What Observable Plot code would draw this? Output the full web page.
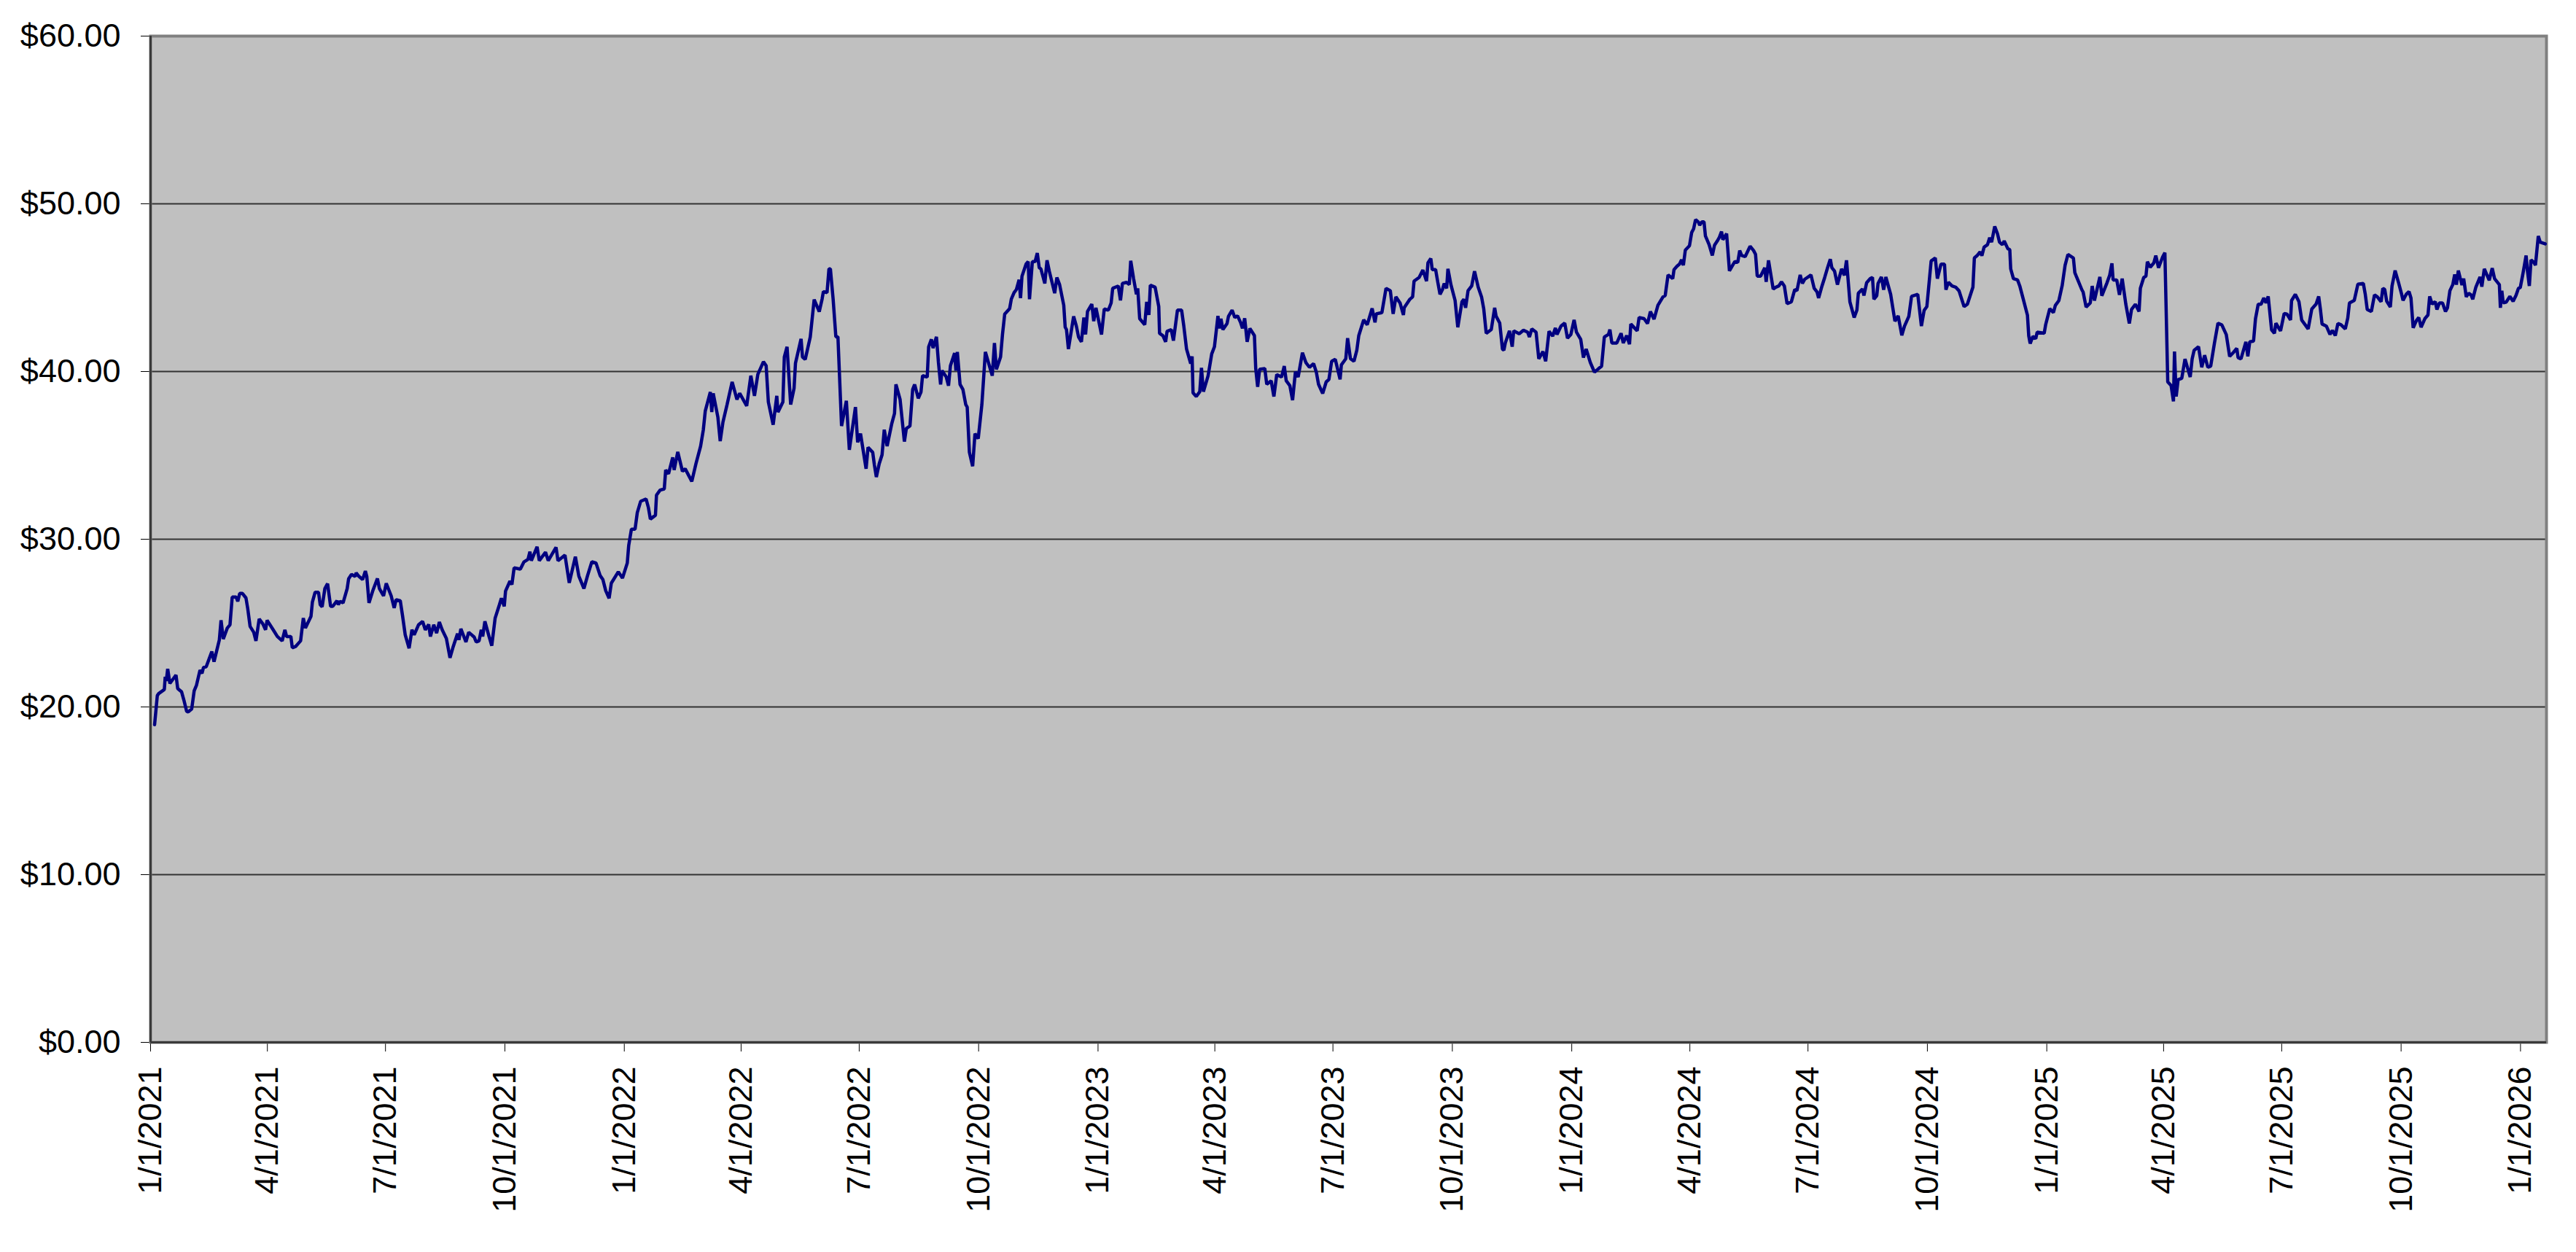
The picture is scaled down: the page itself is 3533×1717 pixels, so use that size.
<!DOCTYPE html>
<html><head><meta charset="utf-8">
<script src="https://cdn.jsdelivr.net/npm/d3@7"></script>
<script src="https://cdn.jsdelivr.net/npm/@observablehq/plot@0.6"></script>
<style>
html,body{margin:0;padding:0;background:#fff;}
#chart svg{display:block;}
</style></head><body><div id="chart"></div>
<script>
const startDate = "2021-01-01";
const endDate = "2026-01-21";
const yTicks = [0, 10, 20, 30, 40, 50, 60];
const xTickLabels = ["1/1/2021","4/1/2021","7/1/2021","10/1/2021","1/1/2022","4/1/2022","7/1/2022","10/1/2022","1/1/2023","4/1/2023","7/1/2023","10/1/2023","1/1/2024","4/1/2024","7/1/2024","10/1/2024","1/1/2025","4/1/2025","7/1/2025","10/1/2025","1/1/2026"];

// days elapsed since startDate
const dayOffsets = [
3.1,5.2,6.3,10.6,11.3,12.1,13.2,14.9,19.6,20.9,
23.9,25.7,27.8,29.0,31.7,33.6,35.4,38.1,39.6,40.8,
42.9,47.2,48.9,53.0,54.3,56.0,59.1,61.2,62.9,65.9,
67.2,68.7,70.8,73.5,74.8,76.7,79.5,81.2,83.7,86.5,
88.6,89.8,94.5,97.7,101.4,103.5,104.8,108.1,109.2,111.7,
115.6,117.7,119.3,123.6,124.7,126.8,129.4,130.7,132.2,134.3,
136.4,138.7,140.4,143.6,144.7,146.1,148.3,151.5,152.6,154.8,
157.6,158.4,160.6,163.4,165.5,166.6,168.3,171.1,174.8,176.3,
179.5,181.6,185.4,187.7,189.2,192.4,194.1,196.2,199.2,201.4,
203.1,206.4,209.6,211.7,214.3,215.6,218.2,220.4,222.5,224.7,
227.9,230.7,233.2,236.5,237.6,239.1,243.0,245.1,249.4,250.9,
253.1,254.8,255.9,257.6,260.8,262.9,265.5,268.8,270.3,272.5,
273.5,276.9,278.4,280.1,284.9,287.7,290.8,292.3,293.4,297.8,
299.5,304.3,306.4,312.4,313.9,319.3,322.6,327.3,330.0,333.9,
336.7,340.0,343.2,346.4,348.5,350.7,353.3,355.0,360.4,363.6,
367.3,368.4,370.5,373.3,375.0,377.6,381.8,383.6,385.1,389.0,
389.8,392.6,395.8,396.9,399.1,402.3,403.4,406.2,409.8,411.9,
417.0,420.2,423.8,425.9,427.4,431.3,432.4,433.5,437.1,438.9,
441.0,444.2,448.1,451.8,453.9,459.3,462.5,465.3,467.9,472.2,
474.3,476.0,479.7,482.5,483.4,487.2,488.3,490.4,493.2,495.8,
496.9,501.2,502.3,504.4,508.3,511.3,515.2,517.4,518.4,521.2,
522.7,523.8,525.9,528.0,529.6,530.7,532.4,536.1,538.4,543.1,
544.8,547.0,551.3,552.8,556.4,557.7,559.2,561.4,563.6,565.3,
567.5,571.1,573.2,574.3,577.5,580.8,582.3,585.1,587.2,588.7,
591.5,593.6,594.8,598.4,599.5,601.6,602.9,605.5,607.0,608.7,
609.8,613.1,614.8,616.3,619.5,620.5,621.6,623.7,625.9,628.1,
629.2,630.9,633.4,635.2,637.7,640.5,643.2,648.5,650.2,651.7,
654.9,656.4,658.1,661.9,663.2,665.3,
667.1,669.2,670.3,671.4,674.6,676.2,677.2,679.4,681.5,683.2,
684.7,686.0,689.0,690.7,692.5,696.6,698.3,700.4,703.6,704.7,
705.7,707.2,711.2,713.3,715.0,717.2,719.1,720.4,721.9,725.2,
726.7,728.4,732.7,734.8,738.0,740.1,741.3,745.6,747.3,748.8,
752.0,754.1,755.2,757.4,759.6,760.6,762.1,766.0,767.5,769.2,
770.3,774.0,776.8,777.4,780.0,782.1,783.2,786.4,788.1,791.2,
794.4,796.1,798.2,801.4,802.5,803.2,805.7,808.4,809.7,811.2,
814.8,817.6,819.7,822.4,823.4,824.7,826.2,829.4,830.5,833.3,
835.4,837.5,839.8,841.3,843.0,844.9,847.0,850.5,851.5,853.0,
854.5,858.5,860.0,863.4,865.5,867.7,871.4,873.5,875.0,877.8,
879.9,882.1,884.2,887.5,890.1,892.9,896.1,898.2,899.9,903.1,
905.8,907.9,910.0,912.8,916.5,917.5,920.9,922.3,924.5,927.2,
929.4,930.9,934.7,937.4,941.2,943.4,944.4,948.7,951.9,955.2,
957.4,959.5,962.7,965.3,965.9,970.3,972.4,973.5,977.4,980.3,
983.1,984.2,986.4,987.5,990.1,991.8,993.5,995.4,996.7,
998.6,999.6,1001.9,1005.1,1007.2,1010.4,1011.9,1013.2,1015.1,1017.9,
1020.1,1022.9,1025.5,1027.2,1029.1,1033.0,1035.6,1036.7,1039.5,1041.6,
1042.7,1043.8,1047.0,1049.1,1050.3,1054.5,1057.7,1061.0,1062.4,1064.2,
1067.5,1069.6,1072.8,1074.9,1077.5,1080.3,1082.4,1083.6,1086.8,1089.6,
1091.7,1094.3,1096.8,1098.6,1101.9,1104.0,1106.1,1109.3,1112.5,1115.8,
1118.0,1120.1,1123.3,1124.4,1125.9,1129.7,1133.0,1134.7,1137.3,1139.5,
1140.5,1145.4,1146.9,1150.7,1153.4,1155.6,1158.4,1161.4,1165.3,1167.0,
1169.2,1172.8,1173.8,1176.0,1178.1,1179.6,1181.0,1182.5,1185.7,1187.4,
1188.9,1190.4,1192.5,1193.6,1195.3,1196.9,1198.0,1200.8,1203.3,1205.0,
1207.2,1208.7,1210.4,1211.4,1214.3,1216.5,1219.0,1220.7,1222.9,1224.4,
1225.9,1228.6,1232.4,1235.1,1236.6,1237.9,1240.5,1243.7,1244.8,1246.6,
1250.2,1252.3,1254.5,1256.6,1258.8,1260.9,1264.2,1266.8,1268.5,1271.0,
1272.7,1274.5,1278.1,1279.3,1281.8,1284.0,1285.2,1287.8,1289.9,1292.1,
1294.2,1295.4,1297.5,1299.7,1302.9,1305.0,1306.7,1309.3,1312.6,1314.7,
1315.8,1319.0,1320.1,1322.2,1325.0,
1326.7,1327.8,1330.0,1331.0,1333.6,1335.3,1337.0,1340.7,1344.0,1346.5,
1349.3,1351.4,1354.7,1356.8,1361.6,1364.4,1366.5,1368.6,1371.9,1375.1,
1376.7,1379.5,1382.2,1383.3,1385.2,1388.0,1390.8,1393.4,1397.3,1399.8,
1404.1,1405.2,1407.3,1409.6,1411.0,1412.7,1415.3,1417.0,1418.5,1420.9,
1423.0,1424.6,1426.8,1428.2,1431.0,1432.5,1433.2,1435.3,1438.5,1440.2,
1442.9,1446.1,1447.1,1448.2,1450.3,1452.5,1453.6,1459.0,1460.1,1463.3,
1466.1,1467.6,1470.3,1472.9,1475.1,1477.3,1481.5,1482.6,1484.1,1488.0,
1489.0,1491.3,1494.5,1496.0,1497.7,1501.9,1503.4,1507.4,1509.5,1511.2,
1512.1,1514.9,1517.0,1519.1,1521.9,1524.6,1526.3,1529.3,1532.1,1533.1,
1535.7,1537.4,1538.5,1540.7,1543.5,1545.0,1547.1,1550.3,1552.0,1554.2,
1556.8,1558.6,1559.4,1560.7,1562.2,1565.0,1567.5,1571.5,1573.0,1574.5,
1577.9,1580.4,1582.6,1585.1,1587.3,1590.2,1592.9,1595.9,1599.3,1601.9,
1604.6,1607.4,1608.4,1610.6,1614.4,1615.9,1617.4,1620.3,1621.8,1623.9,
1626.1,1628.2,1629.9,1631.6,1634.2,1636.4,1637.5,1641.1,1643.9,1646.0,
1648.8,1649.6,1652.5,1655.3,1657.4,
1662.4,1665.2,1668.5,1670.5,1671.8,1673.1,1676.4,1679.2,1681.1,1683.3,
1685.3,1687.7,1691.0,1692.9,1694.2,1697.9,1700.7,1704.9,1706.4,1707.9,
1711.1,1713.5,1715.7,1718.6,1719.9,1721.4,1722.9,1725.7,1727.0,1729.4,
1732.2,1734.2,1735.5,1737.9,1740.1,1741.6,1743.3,1745.7,1747.6,1749.4,
1752.3,1754.7,1756.0,1757.9,1760.3,1761.6,1763.5,1765.9,1768.2,1769.7,
1771.6,1773.8,1775.3,1776.6,1778.1,1779.4,1780.9,1782.2,1784.2,1786.0,
1787.9,1789.2,1791.6,1794.8,1796.2,1798.1,1801.9,1804.2,1806.0,1809.7,
1810.5,1811.6,1812.7,1815.0,1817.8,1820.3,1822.5,1824.4,1825.8,1827.7,
1830.3,1831.4,1832.8,1834.1,1836.5,1837.5,1839.7,1841.2,1845
];

const prices = [
18.94,20.68,20.80,21.04,21.8,21.55,22.27,21.4,21.9,21.1,
20.9,20.4,19.74,19.7,19.88,20.96,21.3,22.2,22.0,22.35,
22.4,23.3,22.7,24.0,25.17,24.05,24.7,24.9,26.55,26.55,
26.3,26.77,26.77,26.5,25.9,24.8,24.45,23.94,25.25,24.95,
24.6,25.17,24.6,24.2,23.94,24.6,24.2,24.2,23.53,23.6,
23.94,25.3,24.7,25.4,26.26,26.84,26.84,26.1,25.97,27.06,
27.35,26.0,26.0,26.33,26.1,26.3,26.2,27.06,27.64,27.9,
27.78,27.99,27.78,27.6,28.1,27.78,26.2,26.9,27.66,27.06,
26.62,27.37,26.62,25.9,26.4,26.33,25.46,24.3,23.5,24.6,
24.3,24.89,25.1,24.6,24.92,24.2,24.9,24.4,25.06,24.6,
24.09,22.93,23.6,24.37,24.0,24.66,23.87,24.45,24.16,23.87,
23.94,24.6,24.2,25.1,24.2,23.65,25.3,26.1,26.48,26.0,
26.91,27.5,27.3,28.29,28.22,28.65,28.8,29.26,28.72,29.55,
28.72,29.23,28.72,29.52,28.72,29.05,27.4,28.96,27.8,27.06,
27.83,28.66,28.58,27.83,27.6,26.93,26.48,27.38,28.06,27.68,
28.58,29.63,30.6,30.6,31.58,32.26,32.4,31.88,31.2,31.43,
32.63,32.93,33.0,34.13,33.9,34.88,34.13,35.21,34.05,34.2,
33.45,34.5,35.55,36.53,37.65,38.78,37.58,38.7,37.28,35.85,
36.98,38.03,39.38,38.33,38.7,37.95,39.75,38.55,39.83,40.58,
40.35,38.18,36.83,38.55,37.58,38.18,40.87,41.47,38.03,39.0,
40.5,41.95,40.87,40.72,42.07,44.29,43.57,44.32,44.77,44.7,
46.12,46.12,44.32,42.07,42.07,39.98,36.75,38.25,35.33,37.88,
35.78,36.3,34.2,35.48,35.18,34.43,33.71,34.5,35.03,36.53,
35.55,36.9,37.5,39.23,38.33,35.82,36.6,36.75,38.93,39.23,
38.4,38.78,39.75,39.67,41.47,41.92,41.4,42.07,40.58,39.23,
40.05,39.67,39.15,40.35,41.1,40.05,41.17,39.23,38.93,38.03,
37.88,35.18,34.35,36.3,36.0,38.03,41.17,39.75,41.7,40.13,
40.87,42.22,43.42,43.75,44.32,44.7,
44.89,45.47,44.38,45.68,46.41,46.55,44.31,46.55,46.55,47.06,
46.19,46.12,45.25,46.63,45.97,44.67,45.61,45.18,43.95,42.64,
42.5,41.34,43.29,42.71,42.06,41.77,43.22,42.21,43.58,44.02,
43.0,43.8,42.21,43.73,43.66,44.09,44.96,45.1,44.24,45.25,
45.32,45.18,46.6,45.54,44.6,44.96,43.15,42.79,44.16,43.37,
45.15,45.03,43.87,42.28,42.14,41.77,42.4,42.5,41.84,43.66,
43.66,42.71,41.34,40.47,40.9,38.73,38.51,38.8,40.22,38.8,
39.74,41.05,41.48,43.32,42.57,43.15,42.5,42.86,43.29,43.66,
43.22,43.32,42.93,42.57,43.18,41.77,42.57,42.14,40.18,39.09,
40.13,40.18,39.24,39.45,38.51,39.82,39.67,40.32,39.45,39.16,
38.29,39.99,39.67,41.12,40.54,40.25,40.47,39.96,39.24,38.69,
39.38,39.53,40.61,40.73,39.53,40.4,40.76,41.99,40.76,40.61,
41.27,42.14,43.08,42.79,43.76,42.93,43.44,43.51,44.96,44.82,
43.44,44.45,44.09,43.37,43.8,44.31,44.45,45.39,45.61,46.05,
45.39,46.48,46.74,46.08,46.08,45.32,44.6,44.89,45.25,
44.96,46.12,45.18,44.24,42.64,44.16,44.31,43.8,44.82,45.1,
45.98,45.03,44.45,43.73,42.28,42.5,43.8,43.3,42.89,41.34,
41.27,41.7,42.43,41.48,42.43,42.25,42.46,42.35,42.06,42.54,
42.35,40.76,41.19,40.61,42.4,42.11,42.6,42.21,42.72,42.89,
41.99,42.21,43.08,42.35,41.92,40.83,41.34,40.54,39.96,40.18,
40.32,42.06,42.21,42.5,41.7,41.7,42.28,41.7,42.14,41.63,
42.83,42.43,43.22,43.15,42.86,43.58,43.12,43.95,44.45,44.53,
45.76,45.54,46.08,46.27,46.41,46.66,46.34,47.24,47.5,48.29,
48.51,49.06,48.92,48.73,48.92,48.92,48.08,47.57,46.92,47.53,
47.79,48.0,48.34,47.86,48.22,46.0,46.34,46.56,46.51,47.21,
46.92,46.85,47.47,47.21,46.99,45.69,45.69,46.19,45.35,46.63,
44.92,45.03,45.1,45.35,45.1,44.05,44.16,44.89,44.82,45.76,
45.25,45.5,45.69,45.76,44.96,44.74,44.38,45.1,45.61,46.19,
46.7,46.19,45.98,45.18,46.12,45.73,46.63,44.16,43.22,43.66,
44.67,44.92,44.53,45.29,45.54,
45.61,44.31,44.52,45.25,45.64,44.88,45.64,44.6,43.0,43.32,
42.16,42.71,43.29,44.48,44.6,42.71,43.65,43.87,46.59,46.77,
45.54,46.4,46.4,44.88,45.32,45.1,45.03,44.81,43.87,44.01,
45.03,46.77,46.91,47.13,46.91,47.42,47.56,47.98,47.71,48.65,
48.22,47.71,47.56,47.78,47.32,47.27,46.12,45.54,45.46,45.1,
44.31,43.36,42.13,41.67,42.1,41.96,42.35,42.28,42.78,43.75,
43.51,43.94,44.23,45.14,46.33,46.98,46.77,45.9,45.61,44.88,
44.74,43.84,44.09,45.1,44.23,45.64,44.52,45.29,45.75,46.45,
45.46,45.46,44.57,45.54,44.01,42.86,43.7,44.01,43.58,44.96,
45.61,45.68,46.55,46.22,46.48,46.91,46.19,46.84,47.09,39.38,
39.16,38.22,41.19,38.51,39.52,39.59,40.75,39.67,40.75,41.26,
41.48,40.25,40.97,40.25,40.32,41.7,42.88,42.78,42.2,40.9,
41.12,41.38,40.83,40.75,41.77,40.9,41.77,41.81,43.14,44.01,
44.01,44.38,44.09,44.48,42.49,42.28,42.88,42.42,43.46,43.43,
43.07,44.23,44.6,44.16,43.07,
42.54,43.73,44.02,44.48,43.73,42.83,42.71,42.21,42.45,42.14,
42.86,42.79,42.54,43.18,44.09,44.24,45.21,45.25,44.6,43.7,
43.58,44.57,44.45,44.16,44.96,44.89,44.19,43.85,45.1,46.02,
45.25,44.67,44.24,44.6,44.77,44.38,42.6,43.03,43.22,42.64,
43.15,43.37,44.48,44.02,44.16,43.7,44.09,44.09,43.58,43.8,
44.82,45.18,45.79,45.18,46.02,45.61,45.15,45.54,44.45,44.67,
44.57,44.31,45.03,45.64,45.06,46.12,45.44,46.16,45.54,45.18,
43.8,44.82,44.09,44.14,44.48,44.19,44.53,44.96,45.0,45.76,
46.92,45.97,45.1,46.66,46.48,46.34,48.08,47.71,47.61
];

const parseISO = d3.utcParse("%Y-%m-%d");
const parseMDY = d3.utcParse("%m/%d/%Y");
const start = parseISO(startDate);
const end = parseISO(endDate);
const n = Math.min(dayOffsets.length, prices.length);
const data = d3.range(n).map(i => ({date: new Date(+start + dayOffsets[i] * 864e5), price: prices[i]}));
const xTicks = xTickLabels.map(parseMDY);
const fmtX = d3.utcFormat("%-m/%-d/%Y");

const chart = Plot.plot({
  width: 3533,
  height: 1717,
  marginLeft: 206,
  marginRight: 41,
  marginTop: 49,
  marginBottom: 288,
  style: {fontFamily: "'Liberation Sans', Arial, sans-serif", fontSize: "45px", color: "#000", background: "#fff"},
  x: {type: "utc", domain: [start, end], ticks: xTicks, tickFormat: fmtX, tickRotate: -90, tickSize: 13, tickPadding: 20, label: null},
  y: {domain: [0, 60], ticks: yTicks, tickFormat: d3.format("$.2f"), tickSize: 13, tickPadding: 28, label: null},
  marks: [
    Plot.frame({fill: "#C0C0C0", stroke: null}),
    Plot.gridY(yTicks, {stroke: "#333", strokeOpacity: 1, strokeWidth: 1.8}),
    Plot.frame({stroke: "#808080", strokeWidth: 4}),
    Plot.ruleX([start], {stroke: "#3a3a3a", strokeWidth: 3}),
    Plot.ruleY([0], {stroke: "#3a3a3a", strokeWidth: 3}),
    Plot.lineY(data, {x: "date", y: "price", stroke: "#000080", strokeWidth: 4.5, strokeLinejoin: "miter"})
  ]
});
document.getElementById("chart").appendChild(chart);
</script>
</body></html>
